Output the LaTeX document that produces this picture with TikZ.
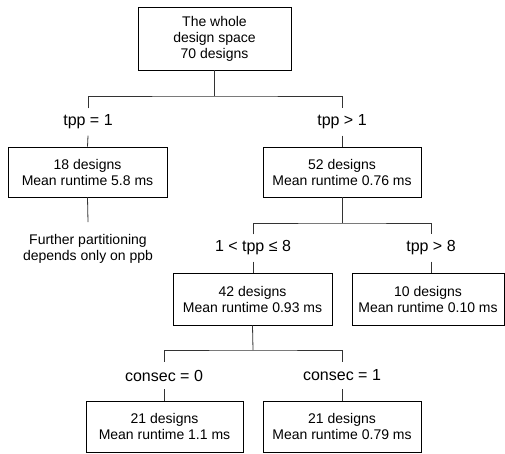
\documentclass[tikz,border=0pt]{standalone}
\usepackage{fontspec}
\setmainfont{Liberation Sans}
\begin{document}
\begin{tikzpicture}[x=1pt,y=-1pt,
  font=\fontsize{14}{16}\selectfont,
  box/.style={draw, line width=0.8pt, align=center, inner sep=0pt, minimum height=51pt},
  lab/.style={inner sep=0pt, minimum height=27pt, align=center, font=\fontsize{16}{18}\selectfont},
  conn/.style={line width=0.8pt, color=black!80}]
\useasboundingbox (0,0) rectangle (505,453);
% boxes
\node[box, minimum width=153pt, minimum height=63pt] (top) at (214.5,38.5) {The whole\\design space\\70 designs};
\node[box, minimum width=159pt, minimum height=50pt] (b18) at (87.5,172) {18 designs\\Mean runtime 5.8 ms};
\node[box, minimum width=158pt, minimum height=50pt] (b52) at (342,172) {52 designs\\Mean runtime 0.76 ms};
\node[box, minimum width=159pt, minimum height=52pt] (b42) at (252.5,299) {42 designs\\Mean runtime 0.93 ms};
\node[box, minimum width=152pt, minimum height=52pt] (b10) at (428,299) {10 designs\\Mean runtime 0.10 ms};
\node[box, minimum width=157pt, minimum height=51pt] (b21a) at (164.5,426.5) {21 designs\\Mean runtime 1.1 ms};
\node[box, minimum width=158pt, minimum height=51pt] (b21b) at (342,426.5) {21 designs\\Mean runtime 0.79 ms};
% labels
\node[lab] (l1) at (88,122) {tpp = 1};
\node[lab] (r1) at (342,122) {tpp > 1};
\node[lab] (l2) at (253,248) {1 < tpp ≤ 8};
\node[lab] (r2) at (431,248) {tpp > 8};
\node[lab] (l3) at (164,375.5) {consec = 0};
\node[lab] (r3) at (342,375.5) {consec = 1};
\node[align=center, inner sep=0pt, anchor=north] (fur) at (88,234) {Further partitioning\\depends only on ppb};
% connectors
\coordinate (j1) at (214.5,96);
\coordinate (j2) at (342,223);
\coordinate (j3) at (253,350);
\coordinate (f1) at (88,222);
\draw[conn] (top.south) -- (j1);
\draw[conn] (l1.north) |- (j1) -| (r1.north);
\draw[conn] (l1.south) -- (b18.north);
\draw[conn] (r1.south) -- (b52.north);
\draw[conn] (b18.south) -- (f1);
\draw[conn] (b52.south) -- (j2);
\draw[conn] (l2.north) |- (j2) -| (r2.north);
\draw[conn] (l2.south) -- (l2.south |- b42.north);
\draw[conn] (r2.south) -- (r2.south |- b10.north);
\draw[conn] (b42.south) -- (j3);
\draw[conn] (l3.north) |- (j3) -| (r3.north);
\draw[conn] (l3.south) -- (l3.south |- b21a.north);
\draw[conn] (r3.south) -- (b21b.north);
\end{tikzpicture}
\end{document}
